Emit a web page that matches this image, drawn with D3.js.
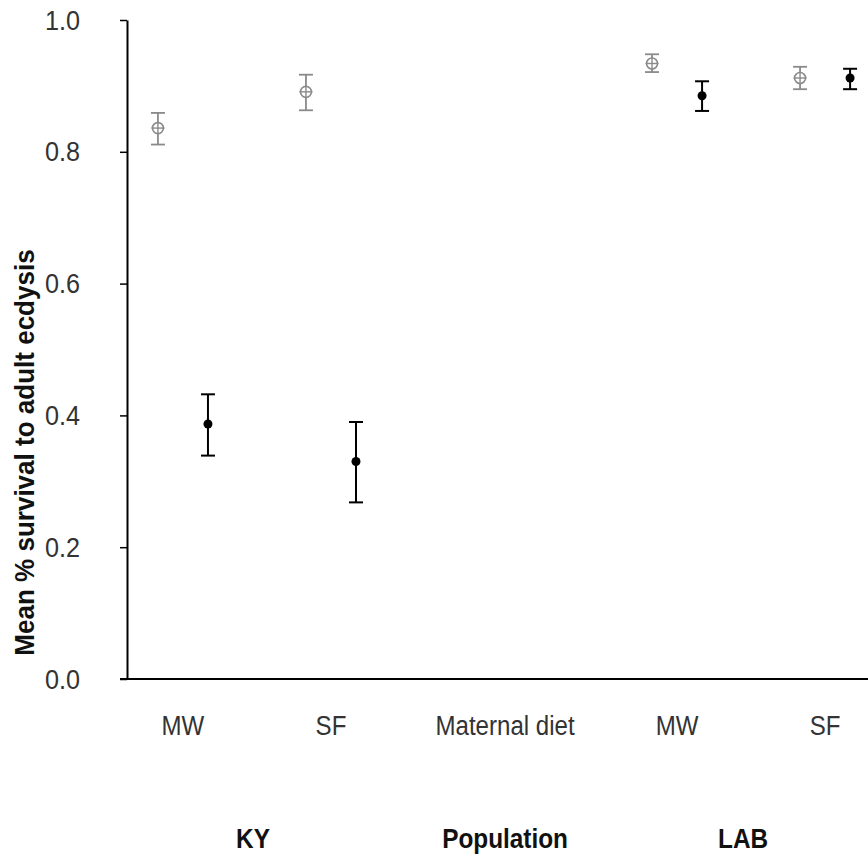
<!DOCTYPE html>
<html>
<head>
<meta charset="utf-8">
<script src="https://cdn.jsdelivr.net/npm/d3@7"></script>
<style>
  html, body { margin: 0; padding: 0; background: #fff; }
  svg { display: block; }
  text { font-family: "Liberation Sans", Arial, sans-serif; }
</style>
</head>
<body>
<svg id="chart" width="868" height="862"></svg>
<script>
// ---- data ----
const categories = ["MW", "SF", "MW", "SF"];
const categoryPos = [1, 2, 4.338, 5.338];
const middleLabel = "Maternal diet";
const middlePos = 3.176;
const groups = ["KY", "Population", "LAB"];
const groupPos = [1.473, 3.176, 4.784];

// open grey markers (first series)
const openMean  = [0.836, 0.891, 0.934, 0.912];
const openLow   = [0.811, 0.863, 0.921, 0.895];
const openHigh  = [0.859, 0.917, 0.948, 0.929];
// filled black markers (second series)
const fillMean  = [0.387, 0.330, 0.885, 0.912];
const fillLow   = [0.339, 0.268, 0.862, 0.895];
const fillHigh  = [0.432, 0.390, 0.907, 0.926];

const yTicks = [0, 0.2, 0.4, 0.6, 0.8, 1.0];
const yTitle = "Mean % survival to adult ecdysis";

// ---- layout ----
const svg = d3.select("#chart");
const x = d3.scaleLinear().domain([0.622, 5.628]).range([127, 868]);
const y = d3.scaleLinear().domain([0, 1]).range([679, 20]);
const offset = 0.169;
const FS = 28, SX = 0.86;

// y axis
const yAxis = d3.axisLeft(y).tickValues(yTicks).tickFormat(d3.format(".1f"))
  .tickSize(7).tickSizeOuter(0).tickPadding(0);
const gy = svg.append("g").attr("transform", `translate(${x.range()[0]},0)`).call(yAxis);
gy.select(".domain").attr("stroke", "#000").attr("stroke-width", 2);
gy.selectAll(".tick line").attr("stroke", "#000").attr("stroke-width", 1.5);
gy.selectAll(".tick text")
  .attr("x", null).attr("dy", null)
  .attr("transform", `translate(-47,9) scale(0.9,1)`)
  .attr("text-anchor", "end")
  .attr("font-size", FS).attr("fill", "#333")
  .attr("font-family", "'Liberation Sans', Arial, sans-serif");

// x axis line
svg.append("line")
  .attr("x1", x.range()[0] - 7).attr("x2", x.range()[1])
  .attr("y1", y(0)).attr("y2", y(0))
  .attr("stroke", "#000").attr("stroke-width", 2);

// y title
svg.append("text")
  .attr("transform", `translate(34,${(y(0)+y(1))/2 + 103}) rotate(-90) scale(0.93,1)`)
  .attr("text-anchor", "middle")
  .attr("font-size", FS).attr("font-weight", "bold").attr("fill", "#111")
  .text(yTitle);

// category labels
svg.selectAll(".cat").data(categories.concat([middleLabel])).join("text")
  .attr("class", "cat")
  .attr("transform", (d, i) => `translate(${x(i < categories.length ? categoryPos[i] : middlePos)},735) scale(${SX},1)`)
  .attr("text-anchor", "middle").attr("font-size", FS).attr("fill", "#333")
  .text(d => d);

// group labels
svg.selectAll(".grp").data(groups).join("text")
  .attr("class", "grp")
  .attr("transform", (d, i) => `translate(${x(groupPos[i])},848) scale(0.87,1)`)
  .attr("text-anchor", "middle").attr("font-size", FS).attr("font-weight", "bold").attr("fill", "#111")
  .text(d => d);

// error bars helper
function errorBars(cls, low, high, dx, color, width) {
  const g = svg.append("g").attr("class", cls);
  const cap = 7;
  categoryPos.forEach((p, i) => {
    const cx = x(p + dx);
    g.append("line").attr("x1", cx).attr("x2", cx)
      .attr("y1", y(low[i])).attr("y2", y(high[i]))
      .attr("stroke", color).attr("stroke-width", width);
    [low[i], high[i]].forEach(v => {
      g.append("line").attr("x1", cx - cap).attr("x2", cx + cap)
        .attr("y1", y(v)).attr("y2", y(v))
        .attr("stroke", color).attr("stroke-width", width);
    });
  });
  return g;
}

// open grey series
const gOpen = errorBars("open", openLow, openHigh, -offset, "#8a8a8a", 1.8);
openMean.forEach((v, i) => {
  const cx = x(categoryPos[i] - offset), cy = y(v);
  gOpen.append("circle").attr("cx", cx).attr("cy", cy).attr("r", 5.5)
    .attr("fill", "#fff").attr("stroke", "#8a8a8a").attr("stroke-width", 1.6);
  gOpen.append("line").attr("x1", cx - 6.5).attr("x2", cx + 6.5).attr("y1", cy).attr("y2", cy)
    .attr("stroke", "#8a8a8a").attr("stroke-width", 1.4);
  gOpen.append("line").attr("x1", cx).attr("x2", cx).attr("y1", cy - 5.5).attr("y2", cy + 5.5)
    .attr("stroke", "#8a8a8a").attr("stroke-width", 1.4);
});

// filled black series
const gFill = errorBars("fill", fillLow, fillHigh, offset, "#000", 2);
gFill.selectAll(".pt").data(fillMean).join("circle")
  .attr("cx", (d, i) => x(categoryPos[i] + offset)).attr("cy", d => y(d))
  .attr("r", 4.5).attr("fill", "#000");
</script>
</body>
</html>
